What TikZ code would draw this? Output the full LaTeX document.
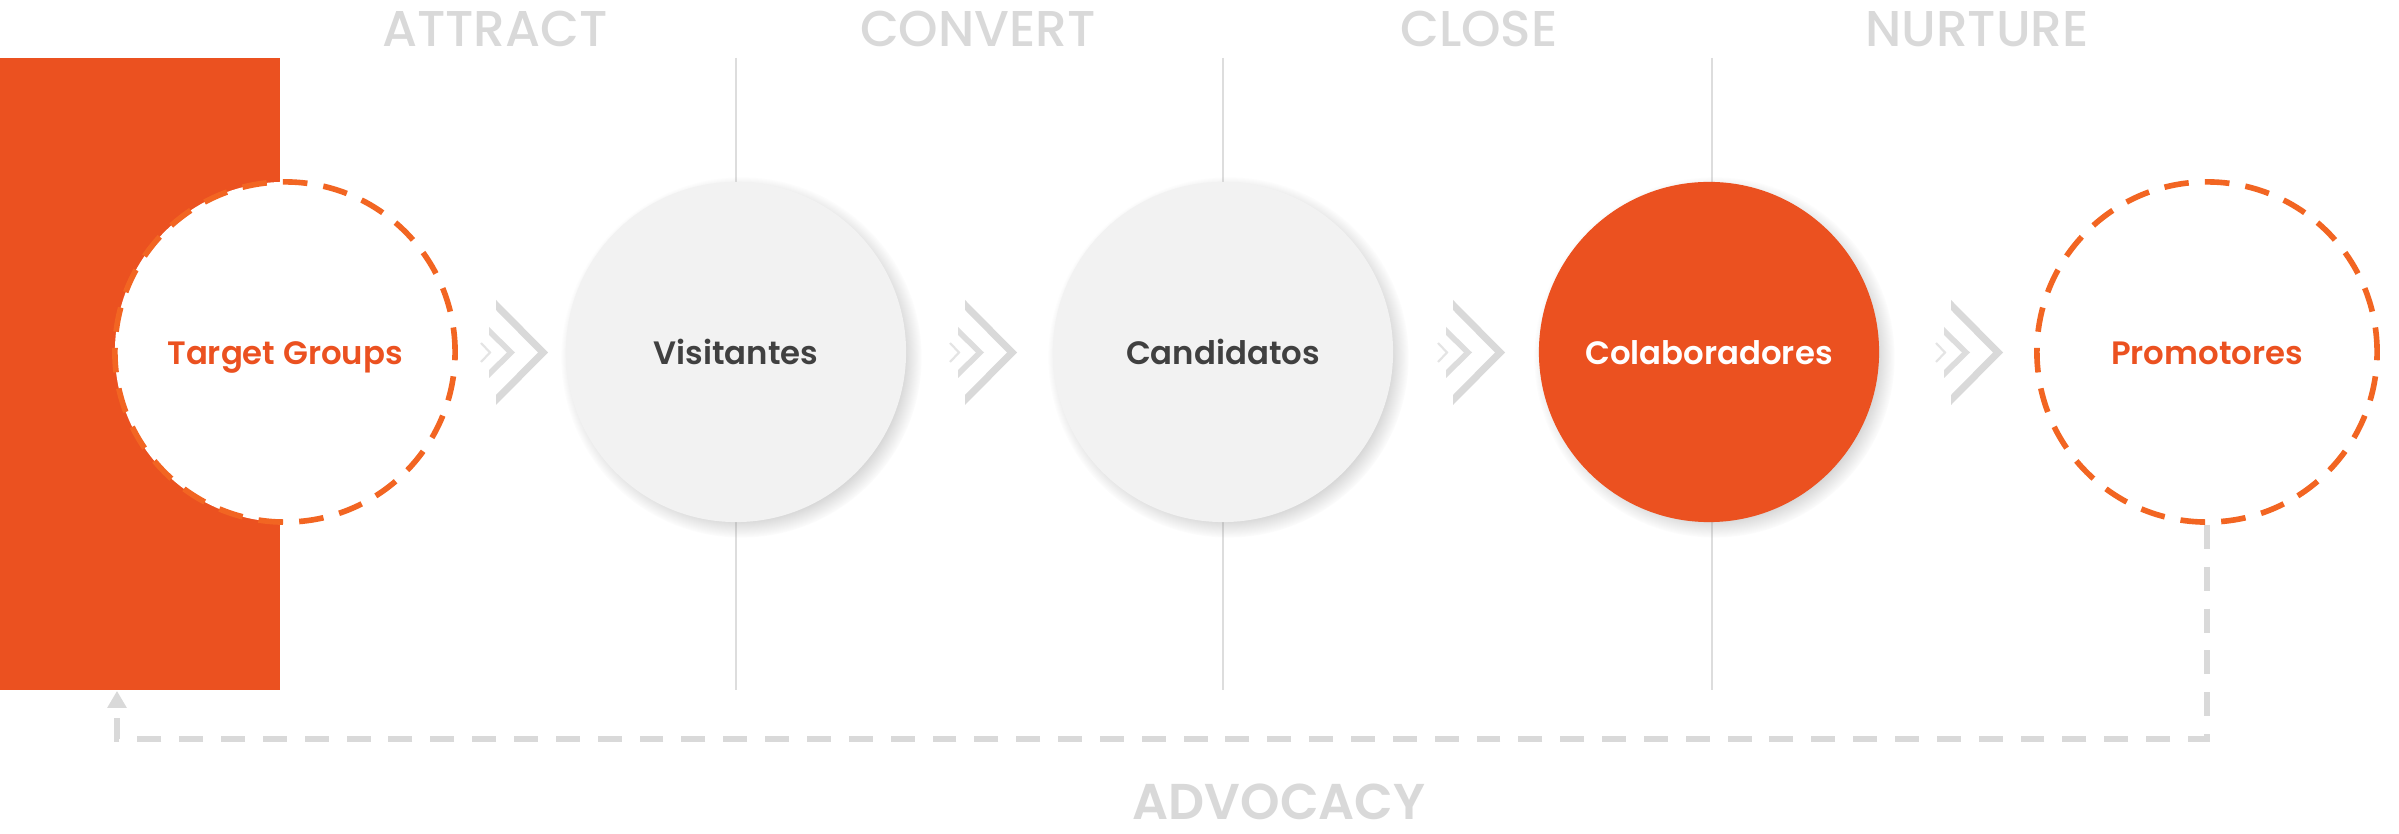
\documentclass[tikz,border=0pt]{standalone}
\usepackage{fontspec}
\setmainfont{Poppins}[BoldFont={Poppins SemiBold}]
\newfontfamily\medfont{Poppins Medium}
\usetikzlibrary{arrows.meta,shadows}

\definecolor{brandorange}{HTML}{EB5120}
\definecolor{dashorange}{HTML}{F26522}
\definecolor{stagegray}{HTML}{D9D9D9}
\definecolor{bubblegray}{HTML}{F2F2F2}
\definecolor{textgray}{HTML}{404040}
\definecolor{rulegray}{HTML}{DDDDDD}

\tikzset{
  stage/.style={font=\medfont\fontsize{14.3}{16}\selectfont, text=stagegray, inner sep=0pt},
  bubble/.style={circle, minimum size=3.4cm, inner sep=0pt, text height=.7em, text depth=0pt,
    font=\bfseries\fontsize{9.2}{11}\selectfont},
  fullbubble/.style={bubble, fill=#1,
    circular drop shadow={shadow scale=1.06, shadow xshift=.05cm, shadow yshift=-.05cm, opacity=.45}},
  openbubble/.style={bubble, fill=white, draw=dashorange, line width=1.6pt,
    dash pattern=on 7pt off 4.6pt, text=brandorange},
  advocacy/.style={draw=stagegray, line width=1.9pt, dash pattern=on 6.8pt off 5.1pt,
    -{Triangle[width=5.2pt,length=4.8pt]}},
}

\begin{document}
\begin{tikzpicture}[x=0.01cm,y=-0.01cm]
  \fill[white] (0,0) rectangle (2399,834);
  \useasboundingbox (0,0) rectangle (2399,834);

  %%%%%%%%%%%%%%%%%%%%%%%%%%%%%%%%%%%%%%%%%%%%%%%%%%%%%%%%%%%%%%%%%%%%%%%%%%%
  %%%%  Stages
  \node[fill=brandorange, minimum width=2.8cm, minimum height=6.32cm, inner sep=0pt] (block) at (140,374) {};

  \foreach \sx in {736,1223,1712}
    {\draw[rulegray, line width=.4pt] (\sx,58) -- (\sx,690);};

  \node[stage] (attract) at (495,29) {ATTRACT};
  \node[stage] (convert) at (978,29) {CONVERT};
  \node[stage] (close) at (1479,29) {CLOSE};
  \node[stage] (nurture) at (1977,29) {NURTURE};

  %%%%%%%%%%%%%%%%%%%%%%%%%%%%%%%%%%%%%%%%%%%%%%%%%%%%%%%%%%%%%%%%%%%%%%%%%%%
  %%%%  Chevrons
  \foreach \bx in {496,965,1453,1951}
   {\fill[stagegray] (\bx,300) -- (\bx+52,352.5) -- (\bx,405)
      -- (\bx,395) -- (\bx+42,352.5) -- (\bx,310) -- cycle;
    \fill[stagegray!90] (\bx-7,327) -- (\bx+19,352.5) -- (\bx-7,378)
      -- (\bx-7,370) -- (\bx+11,352.5) -- (\bx-7,335) -- cycle;
    \draw[stagegray!70, line width=.6pt] (\bx-15,343) -- (\bx-6,352.5) -- (\bx-15,362);
   };

  %%%%%%%%%%%%%%%%%%%%%%%%%%%%%%%%%%%%%%%%%%%%%%%%%%%%%%%%%%%%%%%%%%%%%%%%%%%
  %%%%  Bubbles
  \node[openbubble] (target) at (285,352) {Target Groups};
  \node[fullbubble=bubblegray, text=textgray] (visit) at (736,352) {Visitantes};
  \node[fullbubble=bubblegray, text=textgray] (cand) at (1223,352) {Candidatos};
  \node[fullbubble=brandorange, text=white] (colab) at (1709,352) {Colaboradores};
  \node[openbubble] (prom) at (2207,352) {Promotores};

  %%%%%%%%%%%%%%%%%%%%%%%%%%%%%%%%%%%%%%%%%%%%%%%%%%%%%%%%%%%%%%%%%%%%%%%%%%%
  %%%%  Advocacy loop
  \coordinate (ret) at (117,739);
  \draw[advocacy] (prom.south) |- (ret) -- (ret |- block.south);
  \node[stage, font=\bfseries\fontsize{14.3}{16}\selectfont] (advocacy) at (1279,802) {ADVOCACY};
\end{tikzpicture}
\end{document}
